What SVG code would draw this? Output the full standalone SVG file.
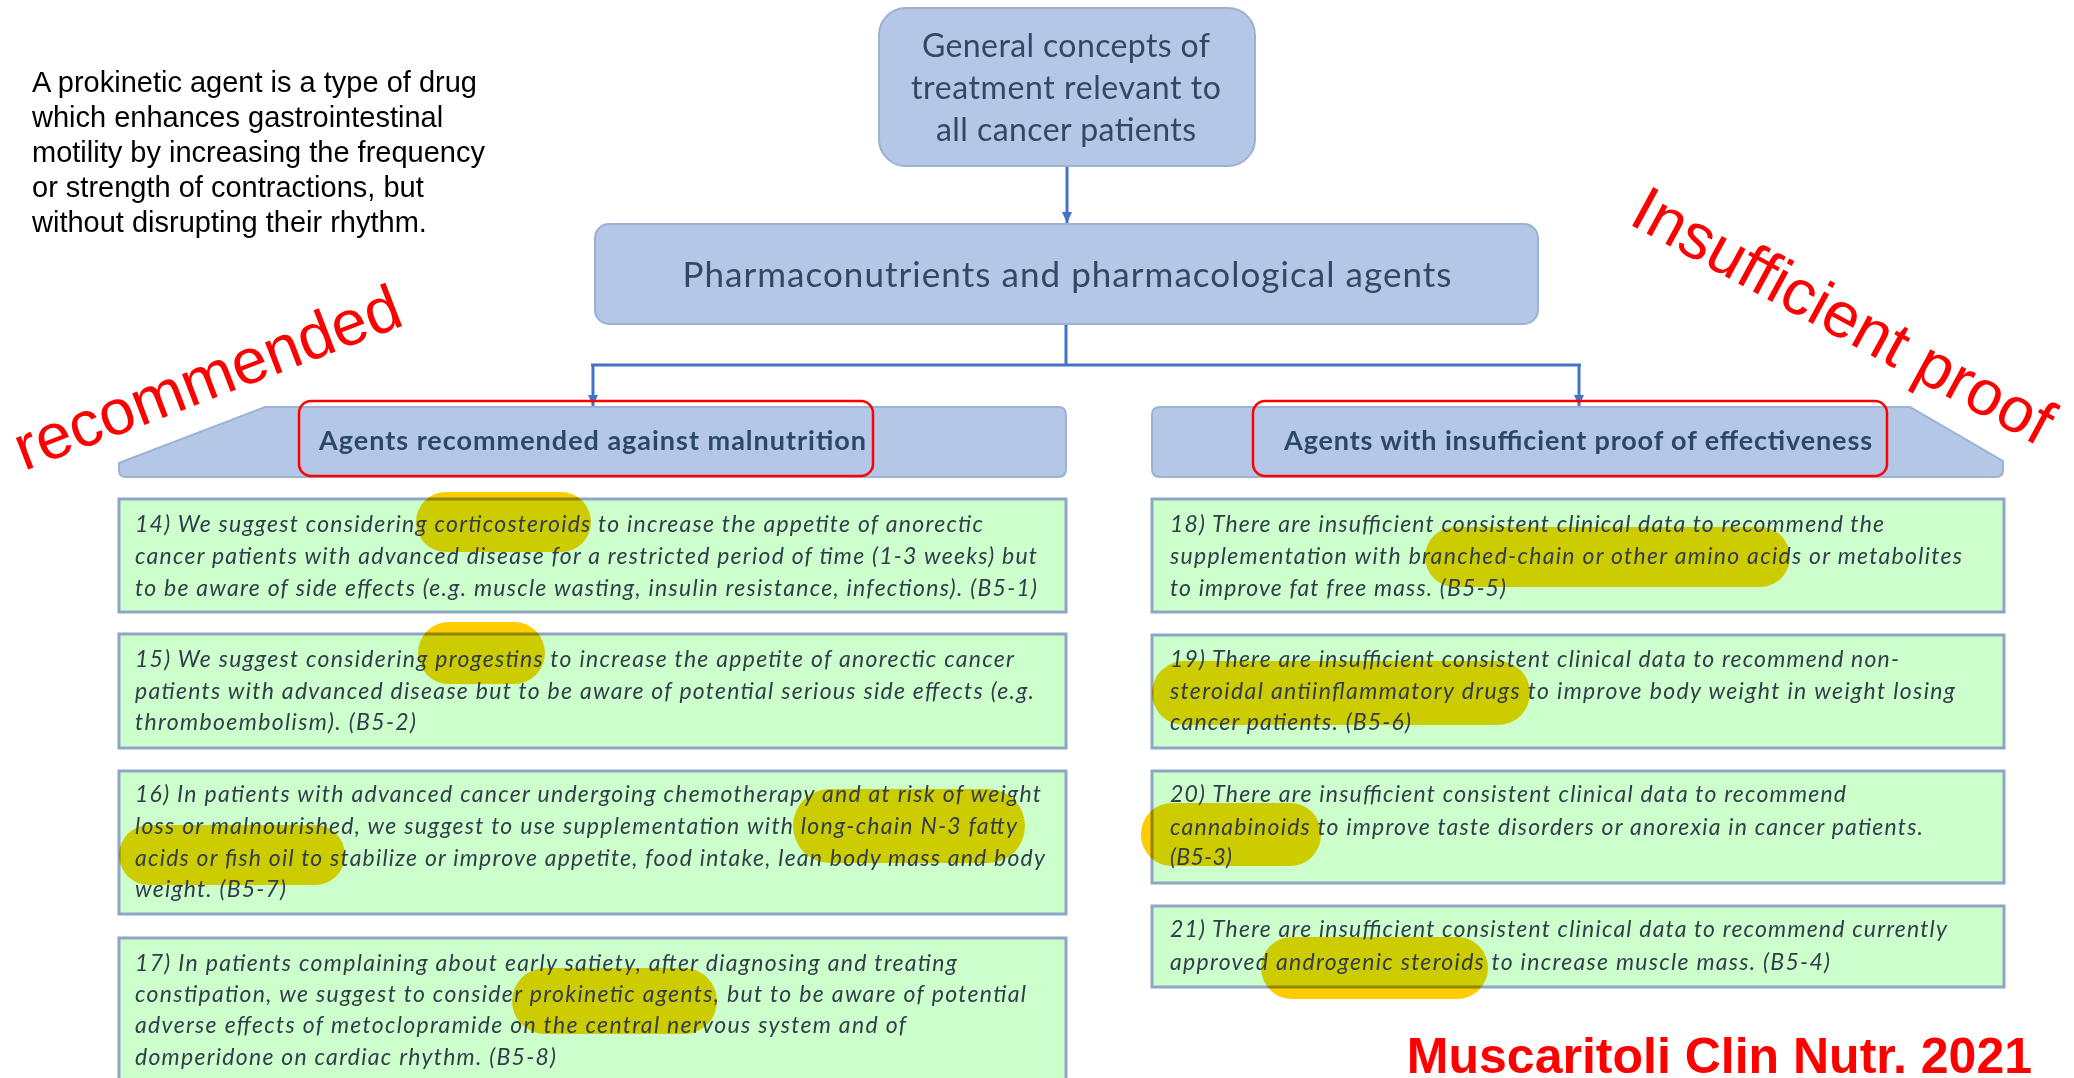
<svg xmlns="http://www.w3.org/2000/svg" width="2074" height="1078" viewBox="0 0 2074 1078">
  <style>
    .bluebox { fill: #b4c7e7; stroke: #9db1d3; stroke-width: 2; }
    .boxtxt { font-family: Lato, "Open Sans", sans-serif; fill: #344862; }
    .hdrtxt { font-family: Lato, "Open Sans", sans-serif; font-weight: bold; font-size: 27px; fill: #2c4869; }
    .frame { fill: none; stroke: #ff0000; stroke-width: 2.5; }
    .green { fill: #ccffcc; stroke: #8ea6c6; stroke-width: 3; }
    .hl { fill: #ffcc00; mix-blend-mode: multiply; }
    .item { font-family: Lato, "Open Sans", sans-serif; font-style: italic; font-size: 23px; fill: #323d4b; }
    .note { font-family: "Liberation Sans", Arial, sans-serif; font-size: 29px; fill: #000000; }
    .stamp { font-family: "Liberation Sans", Arial, sans-serif; font-size: 64px; fill: #ff0000; }
    .cite { font-family: "Liberation Sans", Arial, sans-serif; font-weight: bold; font-size: 50px; fill: #ff0000; }
    .link { fill: none; stroke: #4472c4; stroke-width: 3; }
  </style>
  <defs>
    <marker id="arrow" markerUnits="userSpaceOnUse" markerWidth="12" markerHeight="12" refX="11" refY="6" orient="auto">
      <path d="M0,1 L11,6 L0,11 Z" fill="#4472c4"/>
    </marker>
  </defs>

  <rect width="2074" height="1078" fill="#ffffff"/>

  <!-- explanatory note -->
  <g id="note">
    <text class="note" x="32" y="92">A prokinetic agent is a type of drug</text>
    <text class="note" x="32" y="127">which enhances gastrointestinal</text>
    <text class="note" x="32" y="162">motility by increasing the frequency</text>
    <text class="note" x="32" y="197">or strength of contractions, but</text>
    <text class="note" x="32" y="232">without disrupting their rhythm.</text>
  </g>

  <!-- connectors -->
  <g id="connectors">
    <path class="link" d="M1067,166 V223" marker-end="url(#arrow)"/>
    <path class="link" d="M1066,324 V365"/>
    <path class="link" d="M591,365 H1581"/>
    <path class="link" d="M593,365 V406" marker-end="url(#arrow)"/>
    <path class="link" d="M1579,365 V406" marker-end="url(#arrow)"/>
  </g>

  <!-- top concept box -->
  <g id="general-concepts">
    <rect class="bluebox" x="879" y="8" width="376" height="158" rx="27"/>
    <text class="boxtxt" font-size="32" text-anchor="middle" x="1066" y="57" textLength="288">General concepts of</text>
    <text class="boxtxt" font-size="32" text-anchor="middle" x="1066" y="99" textLength="310">treatment relevant to</text>
    <text class="boxtxt" font-size="32" text-anchor="middle" x="1066" y="141" textLength="260">all cancer patients</text>
  </g>

  <!-- pharmaconutrients box -->
  <g id="pharmaco">
    <rect class="bluebox" x="595" y="224" width="943" height="100" rx="14"/>
    <text class="boxtxt" font-size="35" text-anchor="middle" x="1067" y="287" textLength="769">Pharmaconutrients and pharmacological agents</text>
  </g>

  <!-- column headers -->
  <g id="header-recommended">
    <path class="bluebox" d="M265,407 H1058 Q1066,407 1066,415 V469 Q1066,477 1058,477 H126 Q119,477 119,470 V463 Z"/>
    <rect class="frame" x="299" y="401" width="574" height="75" rx="12"/>
    <text class="hdrtxt" x="319" y="450" textLength="547">Agents recommended against malnutrition</text>
  </g>
  <g id="header-insufficient">
    <path class="bluebox" d="M1160,407 H1910 L2003,461 V470 Q2003,477 1996,477 H1160 Q1152,477 1152,469 V415 Q1152,407 1160,407 Z"/>
    <rect class="frame" x="1253" y="401" width="634" height="75" rx="12"/>
    <text class="hdrtxt" x="1284" y="450" textLength="588">Agents with insufficient proof of effectiveness</text>
  </g>

  <!-- recommendation boxes, left column -->
  <g id="rec-14">
    <rect class="green" x="119" y="499" width="947" height="113"/>
    <rect class="hl" x="416" y="492" width="175" height="60" rx="30"/>
    <text class="item" x="135" y="532" textLength="848">14) We suggest considering corticosteroids to increase the appetite of anorectic</text>
    <text class="item" x="135" y="564" textLength="902">cancer patients with advanced disease for a restricted period of time (1-3 weeks) but</text>
    <text class="item" x="135" y="596" textLength="902">to be aware of side effects (e.g. muscle wasting, insulin resistance, infections). (B5-1)</text>
  </g>
  <g id="rec-15">
    <rect class="green" x="119" y="634" width="947" height="114"/>
    <rect class="hl" x="418" y="622" width="127" height="62" rx="31"/>
    <text class="item" x="135" y="667" textLength="879">15) We suggest considering progestins to increase the appetite of anorectic cancer</text>
    <text class="item" x="135" y="699" textLength="899">patients with advanced disease but to be aware of potential serious side effects (e.g.</text>
    <text class="item" x="135" y="730" textLength="281">thromboembolism). (B5-2)</text>
  </g>
  <g id="rec-16">
    <rect class="green" x="119" y="771" width="947" height="143"/>
    <rect class="hl" x="119" y="825" width="226" height="60" rx="30"/>
    <rect class="hl" x="793" y="789" width="232" height="74" rx="37"/>
    <text class="item" x="135" y="802" textLength="906">16) In patients with advanced cancer undergoing chemotherapy and at risk of weight</text>
    <text class="item" x="135" y="834" textLength="882">loss or malnourished, we suggest to use supplementation with long-chain N-3 fatty</text>
    <text class="item" x="135" y="866" textLength="910">acids or fish oil to stabilize or improve appetite, food intake, lean body mass and body</text>
    <text class="item" x="135" y="897" textLength="151">weight. (B5-7)</text>
  </g>
  <g id="rec-17">
    <rect class="green" x="119" y="938" width="947" height="160"/>
    <rect class="hl" x="512" y="968" width="205" height="66" rx="33"/>
    <text class="item" x="135" y="971" textLength="822">17) In patients complaining about early satiety, after diagnosing and treating</text>
    <text class="item" x="135" y="1002" textLength="891">constipation, we suggest to consider prokinetic agents, but to be aware of potential</text>
    <text class="item" x="135" y="1033" textLength="771">adverse effects of metoclopramide on the central nervous system and of</text>
    <text class="item" x="135" y="1065" textLength="421">domperidone on cardiac rhythm. (B5-8)</text>
  </g>

  <!-- recommendation boxes, right column -->
  <g id="rec-18">
    <rect class="green" x="1152" y="499" width="852" height="113"/>
    <rect class="hl" x="1425" y="527" width="365" height="60" rx="30"/>
    <text class="item" x="1170" y="532" textLength="714">18) There are insufficient consistent clinical data to recommend the</text>
    <text class="item" x="1170" y="564" textLength="792">supplementation with branched-chain or other amino acids or metabolites</text>
    <text class="item" x="1170" y="596" textLength="336">to improve fat free mass. (B5-5)</text>
  </g>
  <g id="rec-19">
    <rect class="green" x="1152" y="635" width="852" height="113"/>
    <rect class="hl" x="1152" y="661" width="378" height="64" rx="32"/>
    <text class="item" x="1170" y="667" textLength="729">19) There are insufficient consistent clinical data to recommend non-</text>
    <text class="item" x="1170" y="699" textLength="785">steroidal antiinflammatory drugs to improve body weight in weight losing</text>
    <text class="item" x="1170" y="730" textLength="241">cancer patients. (B5-6)</text>
  </g>
  <g id="rec-20">
    <rect class="green" x="1152" y="771" width="852" height="112"/>
    <rect class="hl" x="1141" y="803" width="180" height="63" rx="31"/>
    <text class="item" x="1170" y="802" textLength="676">20) There are insufficient consistent clinical data to recommend</text>
    <text class="item" x="1170" y="835" textLength="753">cannabinoids to improve taste disorders or anorexia in cancer patients.</text>
    <text class="item" x="1170" y="865" textLength="62">(B5-3)</text>
  </g>
  <g id="rec-21">
    <rect class="green" x="1152" y="906" width="852" height="81"/>
    <rect class="hl" x="1261" y="937" width="227" height="62" rx="31"/>
    <text class="item" x="1170" y="937" textLength="777">21) There are insufficient consistent clinical data to recommend currently</text>
    <text class="item" x="1170" y="970" textLength="660">approved androgenic steroids to increase muscle mass. (B5-4)</text>
  </g>

  <!-- red annotations -->
  <g id="annotations">
    <text class="stamp" x="24" y="471" transform="rotate(-21 24 471)">recommended</text>
    <text class="stamp" x="1627" y="223" transform="rotate(28.5 1627 223)">Insufficient proof</text>
    <text class="cite" x="2032" y="1073" text-anchor="end">Muscaritoli Clin Nutr. 2021</text>
  </g>
</svg>
